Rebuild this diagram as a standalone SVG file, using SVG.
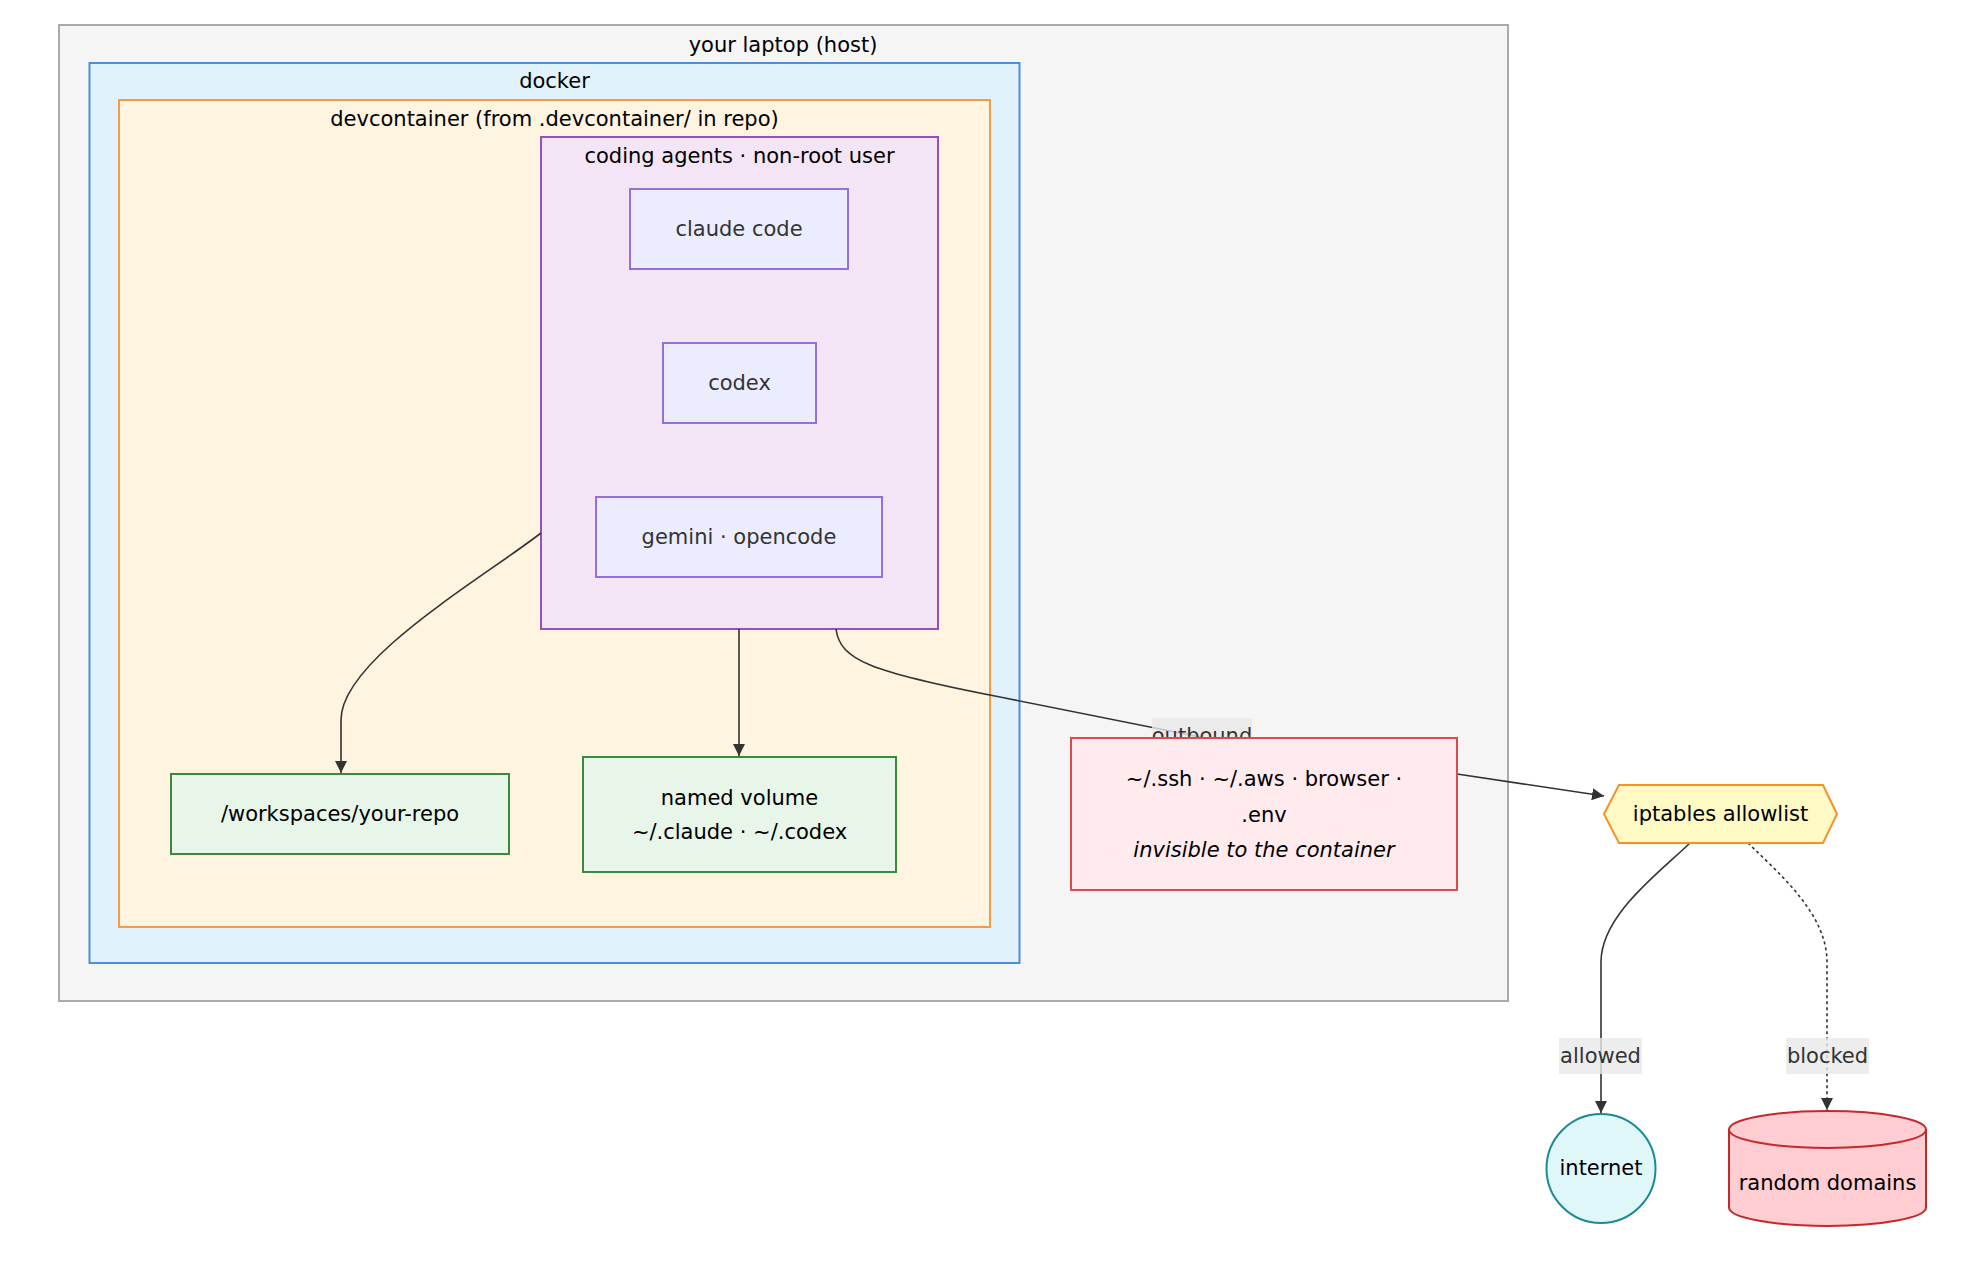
<svg xmlns="http://www.w3.org/2000/svg" width="1962" height="1286" viewBox="0 0 1962 1286">
<style>
  text { font-family: "DejaVu Sans", Verdana, sans-serif; font-size: 21px; text-anchor: middle; }
  .ctitle { fill: #000; }
  .agent rect { fill: #ECECFF; stroke: #9370DB; stroke-width: 2; }
  .agent text { fill: #333; }
  .store rect { fill: #e8f5e9; stroke: #3a8a3e; stroke-width: 2; }
  .store text { fill: #000; }
  .edge { fill: none; stroke: #333; stroke-width: 1.6; }
  .dotted { stroke-dasharray: 3 3; }
  .elabel rect { fill: #e8e8e8; opacity: 0.8; }
  .elabel text { fill: #333; }
</style>
<defs>
  <marker id="arrow" viewBox="0 0 10 10" refX="10" refY="5" markerWidth="12" markerHeight="12" markerUnits="userSpaceOnUse" orient="auto">
    <path d="M0,0 L10,5 L0,10 z" fill="#333"/>
  </marker>
</defs>
<rect width="1962" height="1286" fill="#ffffff"/>

<g id="cluster-host">
  <rect x="59" y="25" width="1449" height="976" fill="#f5f5f5" stroke="#aaaaaa" stroke-width="2"/>
  <text class="ctitle" x="783" y="52">your laptop (host)</text>
</g>
<g id="cluster-docker">
  <rect x="89.5" y="63" width="930" height="900" fill="#e1f2fd" stroke="#4a8fdb" stroke-width="2"/>
  <text class="ctitle" x="554.5" y="88">docker</text>
</g>
<g id="cluster-devcontainer">
  <rect x="119" y="100" width="871" height="827" fill="#fff4e0" stroke="#f49b47" stroke-width="2"/>
  <text class="ctitle" x="554.5" y="126">devcontainer (from .devcontainer/ in repo)</text>
</g>
<g id="cluster-agents">
  <rect x="541" y="137" width="397" height="492" fill="#f3e5f5" stroke="#9b4fb8" stroke-width="2"/>
  <text class="ctitle" x="739.5" y="163">coding agents · non-root user</text>
</g>

<g id="connectors">
  <path class="edge" d="M541,533 C480,580 341,660 341,720 L341,773" marker-end="url(#arrow)"/>
  <path class="edge" d="M739,629 L739,756" marker-end="url(#arrow)"/>
  <path class="edge" d="M836,629 C840,660 870,672 1000,697 L1200,737 C1300,757 1400,766 1457,774 L1604,796" marker-end="url(#arrow)"/>
  <path class="edge" d="M1690,843 C1660,872 1601,915 1601,962 L1601,1113" marker-end="url(#arrow)"/>
  <path class="edge dotted" d="M1748,843 C1782,876 1827,915 1827,962 L1827,1110" marker-end="url(#arrow)"/>
  <g class="elabel">
    <rect x="1152" y="718" width="100" height="36"/>
    <text x="1202" y="743">outbound</text>
  </g>
  <g class="elabel">
    <rect x="1559" y="1038" width="83" height="36"/>
    <text x="1600.5" y="1063">allowed</text>
  </g>
  <g class="elabel">
    <rect x="1786" y="1038" width="83" height="36"/>
    <text x="1827.5" y="1063">blocked</text>
  </g>
</g>

<g id="node-claude" class="agent">
  <rect x="630" y="189" width="218" height="80"/>
  <text x="739" y="236">claude code</text>
</g>
<g id="node-codex" class="agent">
  <rect x="663" y="343" width="153" height="80"/>
  <text x="739.5" y="390">codex</text>
</g>
<g id="node-gemini" class="agent">
  <rect x="596" y="497" width="286" height="80"/>
  <text x="739" y="544">gemini · opencode</text>
</g>
<g id="node-workspace" class="store">
  <rect x="171" y="774" width="338" height="80"/>
  <text x="340" y="821">/workspaces/your-repo</text>
</g>
<g id="node-volume" class="store">
  <rect x="583" y="757" width="313" height="115"/>
  <text x="739.5" y="805">named volume</text>
  <text x="739.5" y="839">~/.claude · ~/.codex</text>
</g>
<g id="node-secrets">
  <rect x="1071" y="738" width="386" height="152" fill="#ffebee" stroke="#dc4b4b" stroke-width="2"/>
  <text x="1264" y="786" fill="#000">~/.ssh · ~/.aws · browser ·</text>
  <text x="1264" y="822" fill="#000">.env</text>
  <text x="1264" y="857" fill="#000" font-style="italic">invisible to the container</text>
</g>
<g id="node-iptables">
  <polygon points="1604,814 1619,785 1823,785 1837,814 1823,843 1619,843" fill="#fff9c4" stroke="#f5912a" stroke-width="2"/>
  <text x="1720.5" y="821" fill="#000">iptables allowlist</text>
</g>
<g id="node-internet">
  <circle cx="1601" cy="1168.5" r="54.5" fill="#e0f7fa" stroke="#1a8a94" stroke-width="2"/>
  <text x="1601" y="1175" fill="#000">internet</text>
</g>
<g id="node-random">
  <path d="M1729,1129.5 A98.5,18.5 0 0,1 1926,1129.5 L1926,1207.5 A98.5,18.5 0 0,1 1729,1207.5 Z" fill="#ffcdd2" stroke="#c62828" stroke-width="2"/>
  <path d="M1729,1129.5 A98.5,18.5 0 0,0 1926,1129.5" fill="none" stroke="#c62828" stroke-width="2"/>
  <text x="1827.5" y="1190" fill="#000">random domains</text>
</g>
</svg>
